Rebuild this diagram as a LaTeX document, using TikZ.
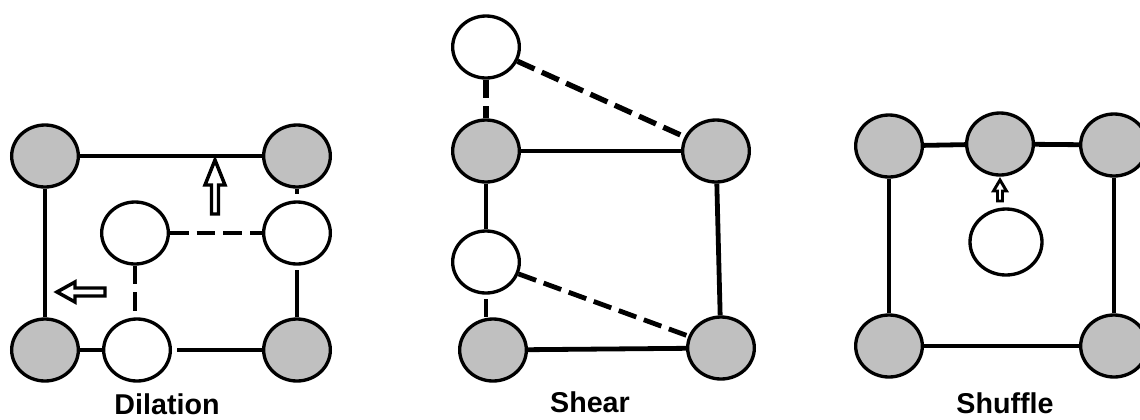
\documentclass[tikz,border=0pt]{standalone}
\usepackage{fontspec}
\setmainfont{Liberation Sans}
\usetikzlibrary{shapes.geometric}
\definecolor{atomgray}{RGB}{192,192,192}

\begin{document}
\begin{tikzpicture}[x=0.75pt,y=-0.75pt,
  atom/.style={ellipse, draw=black, line width=2.5pt, fill=white,
    minimum width=50pt, minimum height=46.5pt, inner sep=0pt},
  fixedatom/.style={atom, fill=atomgray},
  bond/.style={line width=3.6pt, line cap=butt},
  dbond/.style={bond, dash pattern=on 14pt off 6pt},
  arrowline/.style={draw=black, fill=white, line width=2.6pt, line join=miter},
  lbl/.style={font=\fontsize{21.5}{24}\selectfont\bfseries, anchor=base, inner sep=0pt},
  pics/blockarrow/.style n args={4}{code={
    \draw[arrowline] (0,0) -- (#3,#2) -- (#4,#2) -- (#4,#1)
      -- (-#4,#1) -- (-#4,#2) -- (-#3,#2) -- cycle;}}
]
\useasboundingbox (0,0) rectangle (1140,419);
\clip (0,0) rectangle (1140,419);
\fill[white] (0,0) rectangle (1140,419);

% ---------- Dilation ----------
\node[fixedatom] (dTL) at (45,156) {};
\node[fixedatom] (dTR) at (297,156) {};
\node[fixedatom] (dBL) at (45,350) {};
\node[fixedatom] (dBR) at (297,350) {};
\node[atom] (dWL) at (135,233) {};
\node[atom] (dWR) at (297,233) {};
\node[atom] (dWB) at (137,350) {};

\draw[bond] (dTL) -- (dTR);
\draw[bond] (dTL) -- (dBL);
\draw[bond, shorten >=5pt] (dTR) -- (dWR);
\draw[bond, shorten <=3.5pt] (dWR) -- (dBR);
\draw[bond] (dBL) -- (dWB);
\draw[bond, shorten <=4pt] (dWB) -- (dBR);
\draw[dbond] (dWL) -- (dWR);
\draw[dbond] (dWL.south) -- (dWL.south |- dWB.north);

\coordinate (dUpTip) at (215,160);
\coordinate (dLeftTip) at (57,292);
\pic at (dUpTip) {blockarrow={54}{25}{10}{3.5}};
\pic[rotate=90] at (dLeftTip) {blockarrow={48}{18}{10}{4}};

\node[lbl] (dLabel) at (167,414) {Dilation};

% ---------- Shear ----------
\node[atom] (sW1) at (486,47) {};
\node[fixedatom] (sTL) at (486,151) {};
\node[fixedatom] (sTR) at (716,151) {};
\node[atom] (sW2) at (486,262) {};
\node[fixedatom] (sBL) at (493,350) {};
\node[fixedatom] (sBR) at (721,348) {};

\draw[dbond, line width=4pt] (sW1) -- (sTL);
\draw[dbond, line width=4pt] (sW1) -- (sTR);
\draw[bond] (sTL) -- (sTR);
\draw[bond] (sTL) -- (sW2);
\draw[bond] (sTR) -- (sBR);
\draw[bond, shorten <=3.5pt] (sW2.south) -- (sW2.south |- sBL.north);
\draw[dbond] (sW2) -- (sBR);
\draw[bond] (sBL) -- (sBR);

\node[lbl] (sLabel) at (590,412) {Shear};

% ---------- Shuffle ----------
\node[fixedatom] (fTL) at (889,146) {};
\node[fixedatom] (fTM) at (1000,144) {};
\node[fixedatom] (fTR) at (1114,145) {};
\node[fixedatom] (fBL) at (889,346) {};
\node[fixedatom] (fBR) at (1114,346) {};
\node[atom, minimum width=54pt, minimum height=49.5pt] (fW) at (1006,242) {};

\draw[bond] (fTL) -- (fTM);
\draw[bond] (fTM) -- (fTR);
\draw[bond] (fTL) -- (fBL);
\draw[bond] (fTR) -- (fBR);
\draw[bond] (fBL) -- (fBR);

\coordinate (fUpTip) at (1000,180);
\pic[arrowline/.append style={line width=2.2pt}] at (fUpTip) {blockarrow={21}{11}{6.5}{2.5}};

\node[lbl] (fLabel) at (1005,413) {Shuffle};
\end{tikzpicture}
\end{document}
